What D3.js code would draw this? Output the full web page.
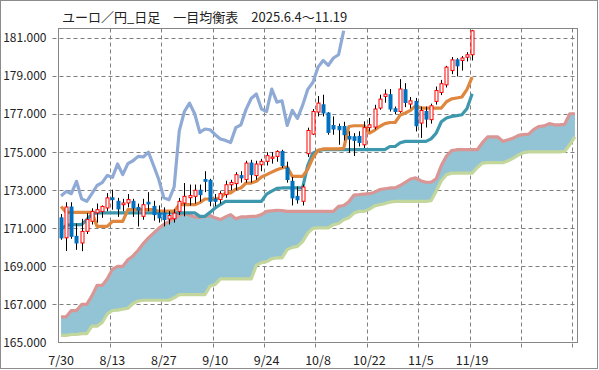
<!DOCTYPE html>
<html>
<head>
<meta charset="utf-8">
<script src="https://cdn.jsdelivr.net/npm/d3@7"></script>
<style>
  body { margin: 0; background: #fff; }
  text { font-family: "Noto Sans CJK JP", "Noto Sans", sans-serif; fill: #222; }
</style>
</head>
<body>
<svg class="chart" width="599" height="370"></svg>
<script>
// title and axis labels
const title = "ユーロ／円_日足　一目均衡表　2025.6.4〜11.19";
const dateLabels = ["7/30", "8/13", "8/27", "9/10", "9/24", "10/8", "10/22", "11/5", "11/19"];
const priceTicks = [165, 167, 169, 171, 173, 175, 177, 179, 181];

// daily candles 7/30 .. 11/19
const open = [171.55,170.50,172.12,170.58,170.23,170.84,171.37,171.81,171.89,172.07,
  172.60,172.42,172.24,172.33,172.42,172.10,171.63,172.37,172.15,171.81,
  171.81,171.49,171.50,171.89,172.33,172.61,172.68,173.00,173.56,173.52,
  172.54,172.51,172.77,173.29,173.35,173.77,173.56,174.43,173.77,174.34,
  174.52,174.68,174.78,175.04,174.17,173.47,172.68,172.42,174.92,175.95,
  177.11,177.49,177.06,176.40,176.35,176.35,175.83,175.81,175.83,175.39,
  176.29,176.32,177.32,177.93,178.02,177.28,177.14,178.28,177.53,177.67,
  176.53,177.14,176.71,177.67,178.14,178.54,179.29,179.85,179.82,179.99,180.12];
const high = [171.75,172.37,172.37,171.25,171.50,171.80,172.05,172.30,172.20,172.85,
  173.03,172.60,172.55,172.80,172.55,172.30,172.55,172.90,172.45,172.20,
  172.10,171.90,172.00,172.60,173.38,173.30,173.30,173.30,174.00,173.60,
  172.80,172.95,173.50,173.55,173.95,174.00,174.55,174.60,174.55,174.65,
  175.00,175.00,175.10,175.13,174.50,173.70,173.20,173.30,176.29,177.27,
  177.95,178.02,177.10,176.88,176.50,176.60,176.10,176.00,176.10,176.62,
  176.80,177.49,178.02,178.30,178.32,177.40,178.84,178.63,177.90,177.85,
  177.40,177.40,177.55,178.45,178.80,179.54,180.00,179.94,180.05,180.26,181.43];
const low = [170.40,169.81,170.45,169.87,169.80,170.70,171.20,171.30,171.55,171.90,
  171.98,171.60,171.90,172.10,171.60,171.10,171.45,171.90,171.40,171.30,
  171.10,171.20,171.30,171.70,171.63,172.20,172.30,172.40,172.90,172.16,
  172.16,172.30,172.60,173.00,173.00,173.40,173.40,173.40,173.55,174.00,
  174.30,174.40,174.50,174.17,173.40,172.20,172.30,172.20,174.75,175.90,
  176.88,176.88,175.92,175.92,175.39,175.62,174.97,174.80,175.30,175.22,
  176.10,176.20,177.23,177.60,177.14,177.00,177.07,177.37,177.30,176.09,
  175.75,176.30,176.50,177.50,178.00,178.40,179.10,178.98,179.29,179.77,179.82];
const close = [170.50,172.12,170.58,170.23,170.84,171.46,171.89,171.98,172.15,172.60,
  172.51,172.02,172.33,172.51,172.07,171.95,172.24,172.28,171.72,171.55,
  171.46,171.67,171.80,172.42,172.68,172.72,173.00,172.77,173.47,172.42,
  172.42,172.82,173.29,173.41,173.82,173.65,174.43,173.82,174.38,174.52,
  174.82,174.75,175.04,174.30,173.56,172.60,172.50,173.17,176.14,177.14,
  177.58,177.06,176.04,176.22,176.18,175.92,175.69,175.62,175.51,176.29,
  176.44,177.27,177.79,178.05,177.27,177.14,178.32,177.61,177.70,176.39,
  177.19,176.74,177.44,178.24,178.60,179.47,179.85,179.54,179.95,180.12,181.38];

// conversion line / base line
const tenkan = [172.15,171.84,171.84,171.84,171.84,171.84,171.84,171.10,171.10,171.10,
  171.37,171.37,171.37,171.98,171.98,171.98,171.98,171.98,171.98,171.90,
  171.90,171.90,171.90,172.24,172.24,172.24,172.24,172.35,172.54,172.54,
  172.54,172.60,172.86,172.86,173.05,173.12,173.38,173.38,173.47,173.70,
  173.82,173.95,174.08,174.17,174.22,173.73,173.73,173.73,174.10,174.70,
  175.10,175.17,175.17,175.17,175.17,175.20,176.35,176.39,176.39,176.39,
  176.00,176.15,176.35,176.50,176.56,176.56,176.95,177.06,177.20,177.45,
  177.32,177.32,177.32,177.32,177.32,177.65,177.80,177.85,177.90,178.30,178.95];
const kijun = [170.95,171.15,171.19,171.19,171.19,171.46,171.75,171.81,171.81,171.81,
  171.81,171.81,171.81,171.81,171.81,171.81,171.81,171.81,171.81,171.81,
  171.81,171.81,171.81,171.81,171.81,171.81,171.81,171.63,171.63,171.85,
  172.07,172.25,172.42,172.42,172.42,172.42,172.42,172.42,172.42,172.42,
  172.80,172.95,173.10,173.12,173.12,173.12,173.12,173.12,174.30,174.95,
  175.08,175.13,175.13,175.13,175.13,175.13,175.13,175.13,175.13,175.13,
  175.13,175.13,175.13,175.13,175.30,175.30,175.50,175.57,175.57,175.57,
  175.57,175.57,175.70,176.00,176.60,176.80,176.88,176.92,176.97,177.30,178.07];

// lagging span, drawn from 7/30
const chikou = [172.70,172.94,172.82,173.47,172.55,172.42,172.82,173.25,173.40,173.78,
  173.68,174.38,173.82,174.40,174.55,174.78,174.75,175.00,174.30,173.58,
  172.60,172.50,173.17,176.12,177.14,177.58,177.02,176.04,176.22,176.18,
  175.92,175.69,175.62,175.51,176.29,176.44,177.25,177.82,178.06,177.27,
  177.14,178.32,177.63,177.70,176.41,177.20,176.77,177.46,178.30,178.66,
  179.47,179.82,179.56,179.95,180.12,181.38];

// leading spans A / B (26 days ahead)
const spanA = [166.35,166.35,166.68,166.68,167.00,167.00,167.45,168.00,168.00,168.35,
  168.85,169.00,169.00,169.35,169.55,169.85,170.20,170.50,170.75,171.00,
  171.20,171.35,171.55,171.70,171.77,171.70,171.60,171.58,171.62,171.67,
  171.55,171.46,171.60,171.72,171.50,171.60,171.60,171.63,171.63,171.72,
  171.89,171.92,171.95,171.93,171.89,171.89,171.89,171.89,171.89,171.89,
  171.89,171.89,171.89,171.89,172.15,172.20,172.40,172.75,172.77,172.80,
  172.82,172.90,173.03,173.08,173.12,173.12,173.25,173.42,173.59,173.65,
  173.50,173.42,173.42,173.60,174.30,174.80,175.08,175.13,175.13,175.13,
  175.13,175.13,175.50,175.80,175.80,175.80,175.57,175.65,175.74,175.88,
  175.92,175.95,176.20,176.35,176.38,176.50,176.44,176.44,176.47,177.02,177.02];
const spanB = [165.37,165.37,165.42,165.42,165.47,165.47,165.86,165.86,166.05,166.50,
  166.68,166.70,166.75,166.80,167.05,167.18,167.22,167.22,167.22,167.22,
  167.22,167.22,167.35,167.52,167.52,167.52,167.52,167.52,167.52,167.96,
  168.05,168.34,168.34,168.34,168.34,168.34,168.34,168.34,169.05,169.20,
  169.25,169.40,169.45,169.45,169.88,170.00,170.05,170.30,170.75,171.00,
  171.02,171.02,171.02,171.19,171.25,171.45,171.55,171.80,171.89,171.89,
  172.00,172.18,172.24,172.30,172.38,172.42,172.42,172.42,172.42,172.42,
  172.42,172.42,172.45,172.95,173.50,173.82,173.90,173.90,173.90,173.90,
  173.90,174.20,174.43,174.45,174.45,174.45,174.45,174.55,174.69,174.85,
  174.98,175.02,175.02,175.02,175.02,175.02,175.02,175.02,175.04,175.40,175.80];

const svg = d3.select("svg.chart");
const plot = {left: 58.5, right: 577.5, top: 28.5, bottom: 342.5};

// outer frame
svg.append("rect")
  .attr("x", 0.5).attr("y", 0.5).attr("width", 597).attr("height", 368)
  .attr("fill", "#fff").attr("stroke", "#8c8c8c");

let x = d3.scaleBand()
  .domain(d3.range(spanA.length))
  .range([plot.left, plot.right])
  .padding(0);
const cx = i => x(i) + x.bandwidth() / 2;

let y = d3.scaleLinear()
  .domain([165, 181.5])
  .range([plot.bottom, plot.top]);

// grid
const grid = svg.append("g").attr("stroke", "#7f7f7f").attr("stroke-dasharray", "4,3");
grid.selectAll("line.h")
  .data(priceTicks.slice(1))
  .enter().append("line")
    .attr("x1", plot.left - 6).attr("x2", plot.right)
    .attr("y1", d => Math.round(y(d)) + 0.5).attr("y2", d => Math.round(y(d)) + 0.5);
grid.selectAll("line.v")
  .data(d3.range(10, spanA.length, 10))
  .enter().append("line")
    .attr("x1", d => Math.round(x(d)) + 0.5).attr("x2", d => Math.round(x(d)) + 0.5)
    .attr("y1", plot.top).attr("y2", plot.bottom + 6);

// kumo
svg.append("path")
  .datum(spanA)
  .attr("fill", "#93c4d5")
  .attr("d", d3.area()
    .x((d, i) => cx(i))
    .y0((d, i) => y(spanB[i]))
    .y1(d => y(d)));

let line = d3.line().x((d, i) => cx(i)).y(d => y(d));

const series = [
  {data: spanA, color: "#d99694"},
  {data: spanB, color: "#c3d69b"},
  {data: kijun, color: "#3d97ad"},
  {data: tenkan, color: "#df873e"},
  {data: chikou, color: "#90aad6"}
];
svg.append("g")
  .selectAll("path")
  .data(series)
  .enter()
  .append("path")
    .attr("fill", "none")
    .attr("stroke", d => d.color)
    .attr("stroke-width", 3.2)
    .attr("stroke-linejoin", "round")
    .attr("d", d => line(d.data));

// candles
const candles = svg.append("g")
  .selectAll("g")
  .data(close.map((c, i) => ({i, o: open[i], h: high[i], l: low[i], c})))
  .enter().append("g");
candles.append("line")
  .attr("x1", d => Math.round(cx(d.i)) + 0.5).attr("x2", d => Math.round(cx(d.i)) + 0.5)
  .attr("y1", d => y(d.h)).attr("y2", d => y(d.l))
  .attr("stroke", "#000");
candles.append("rect")
  .attr("x", d => Math.round(cx(d.i)) - 1)
  .attr("width", 3)
  .attr("y", d => y(Math.max(d.o, d.c)))
  .attr("height", d => Math.max(1, Math.abs(y(d.o) - y(d.c))))
  .attr("fill", d => d.c >= d.o ? "#fff" : "#0070c0")
  .attr("stroke", d => d.c >= d.o ? "#ff0000" : "#0070c0");

// axes
const axisColor = "#868686";
const yAxis = svg.append("g")
  .attr("transform", `translate(${plot.left},0)`)
  .call(d3.axisLeft(y).tickValues(priceTicks).tickFormat(d3.format(".3f")).tickSize(0).tickPadding(12));
yAxis.select(".domain").remove();
yAxis.selectAll("text").style("font-size", "12px").attr("fill", "#222");

const xAxis = svg.append("g")
  .attr("transform", `translate(0,${plot.bottom})`)
  .call(d3.axisBottom(x)
    .tickValues(d3.range(0, 81, 10))
    .tickFormat(i => dateLabels[i / 10])
    .tickSize(0).tickPadding(14));
xAxis.select(".domain").remove();
xAxis.selectAll("text").style("font-size", "12.5px").attr("fill", "#222");

svg.append("rect")
  .attr("x", plot.left).attr("y", plot.top)
  .attr("width", plot.right - plot.left).attr("height", plot.bottom - plot.top)
  .attr("fill", "none").attr("stroke", axisColor);

svg.append("text")
  .attr("x", 62).attr("y", 22)
  .style("font-size", "13px")
  .text(title);
</script>
</body>
</html>
